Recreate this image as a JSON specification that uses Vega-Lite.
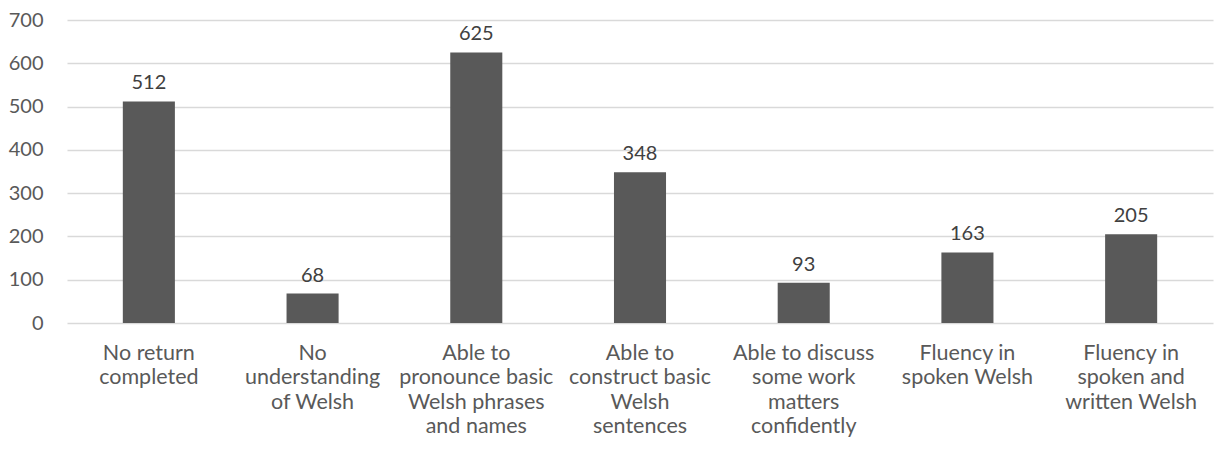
{
  "$schema": "https://vega.github.io/schema/vega-lite/v6.json",
  "autosize": {"type": "none"},
  "padding": {"left": 67, "top": 20, "right": 5, "bottom": 133},
  "width": 1146,
  "height": 303,
  "background": "white",
  "data": {
    "values": [
      {"level": "No return completed", "count": 512},
      {"level": "No understanding of Welsh", "count": 68},
      {"level": "Able to pronounce basic Welsh phrases and names", "count": 625},
      {"level": "Able to construct basic Welsh sentences", "count": 348},
      {"level": "Able to discuss some work matters confidently", "count": 93},
      {"level": "Fluency in spoken Welsh", "count": 163},
      {"level": "Fluency in spoken and written Welsh", "count": 205}
    ]
  },
  "config": {
    "view": {"stroke": null},
    "font": "Lato",
    "text": {"font": "Lato"}
  },
  "encoding": {
    "x": {
      "field": "level",
      "type": "nominal",
      "sort": null,
      "scale": {"paddingInner": 0.682, "paddingOuter": 0.341},
      "axis": {
        "title": null,
        "labelAngle": 0,
        "labelFont": "Lato",
        "labelFontSize": 21.5,
        "labelColor": "#595959",
        "labelLineHeight": 24.5,
        "labelPadding": 19,
        "labelBaseline": "top",
        "ticks": false,
        "domain": false,
        "labelExpr": "{'No return completed': ['No return', 'completed'], 'No understanding of Welsh': ['No', 'understanding', 'of Welsh'], 'Able to pronounce basic Welsh phrases and names': ['Able to', 'pronounce basic', 'Welsh phrases', 'and names'], 'Able to construct basic Welsh sentences': ['Able to', 'construct basic', 'Welsh', 'sentences'], 'Able to discuss some work matters confidently': ['Able to discuss', 'some work', 'matters', 'confidently'], 'Fluency in spoken Welsh': ['Fluency in', 'spoken Welsh'], 'Fluency in spoken and written Welsh': ['Fluency in', 'spoken and', 'written Welsh']}[datum.value]",
        "labelLimit": 0
      }
    },
    "y": {
      "field": "count",
      "type": "quantitative",
      "scale": {"domain": [0, 700]},
      "axis": {
        "title": null,
        "values": [0, 100, 200, 300, 400, 500, 600, 700],
        "labelFont": "Lato",
        "labelFontSize": 20,
        "labelColor": "#595959",
        "labelPadding": 24,
        "ticks": false,
        "domain": false,
        "gridColor": "#d9d9d9",
        "gridWidth": 1.3
      }
    }
  },
  "layer": [
    {"mark": {"type": "bar", "color": "#595959"}},
    {
      "mark": {"type": "text", "baseline": "bottom", "dy": -8, "font": "Lato", "fontSize": 20, "color": "#404040"},
      "encoding": {"text": {"field": "count", "type": "quantitative"}}
    }
  ]
}
